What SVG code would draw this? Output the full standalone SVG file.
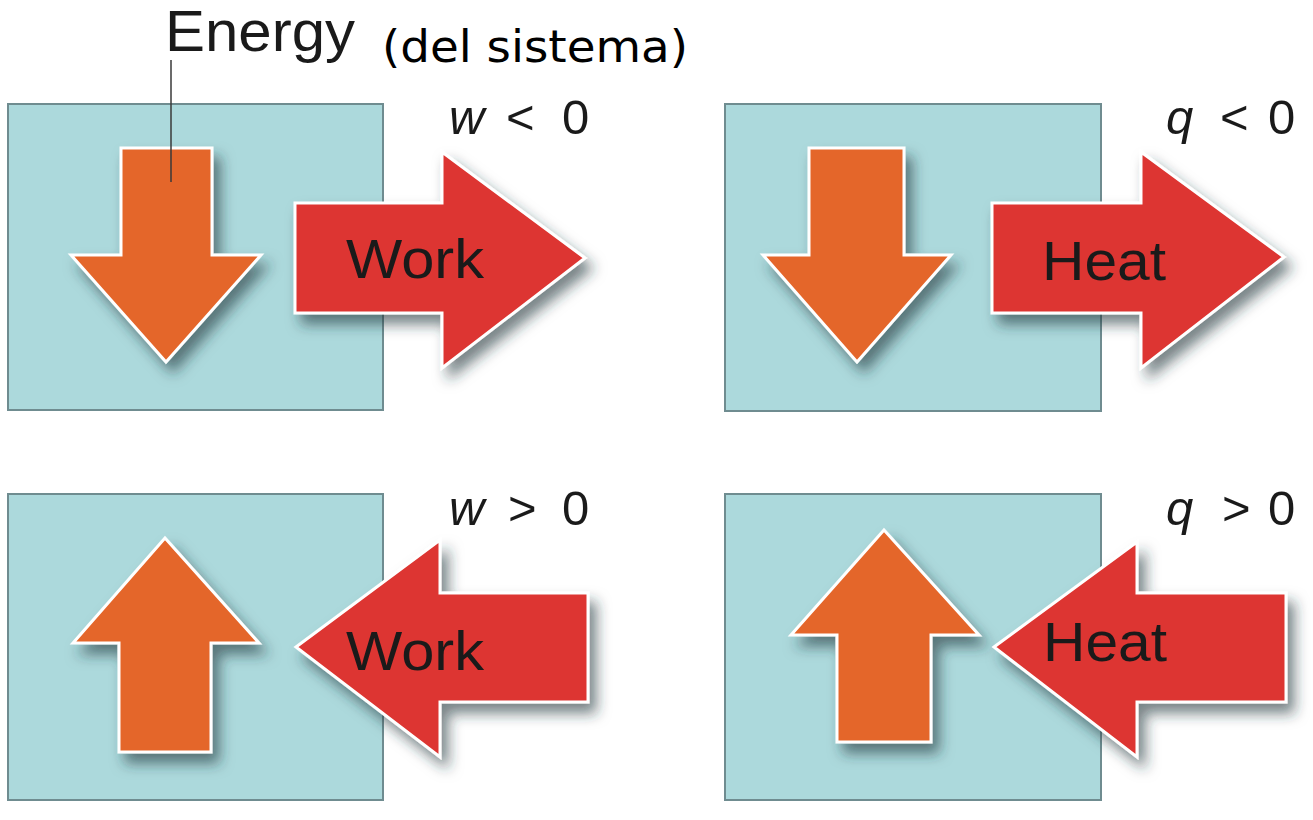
<svg xmlns="http://www.w3.org/2000/svg" width="1313" height="820" viewBox="0 0 1313 820">
<style>
.box{fill:#acd9dc;stroke:#6f8c90;stroke-width:2}
.orange{fill:#e4662a;stroke:#fff;stroke-width:3;stroke-linejoin:miter}
.red{fill:#dd3530;stroke:#fff;stroke-width:3;stroke-linejoin:miter}
.lbl{font-family:"Liberation Sans",Arial,sans-serif;fill:#1a1a1a}
.big{font-size:55px;text-anchor:middle}
.cond{font-size:49px}
.it{font-style:italic}
.lead{stroke:#3a3a3a;stroke-width:1.5;fill:none}
</style>
<defs>
<filter id="sh" x="-20%" y="-20%" width="150%" height="150%">
<feDropShadow dx="7" dy="10" stdDeviation="7" flood-color="#1e3538" flood-opacity="0.6"/>
</filter>
</defs>
<rect width="1313" height="820" fill="#fff"/>

<g id="panel-tl">
<rect class="box" x="8" y="104" width="375" height="306"/>
<path class="orange" filter="url(#sh)" d="M121,148 H212 V255 H261 L166,362 L71,255 H121 Z"/>
<path class="red" filter="url(#sh)" d="M295,203 H442 V152 L585,258 L442,368 V313 H295 Z"/>
<text class="lbl big" x="415" y="278" textLength="138" lengthAdjust="spacingAndGlyphs">Work</text>
<text class="lbl cond" y="134"><tspan class="it" x="449">w</tspan><tspan x="506">&lt;</tspan><tspan x="562">0</tspan></text>
</g>

<g id="panel-tr">
<rect class="box" x="725" y="104" width="376" height="307"/>
<path class="orange" filter="url(#sh)" d="M809,148 H904 V255 H951 L857,362 L763,255 H809 Z"/>
<path class="red" filter="url(#sh)" d="M992,203 H1141 V152 L1284,257 L1141,368 V313 H992 Z"/>
<text class="lbl big" x="1104" y="280" textLength="124" lengthAdjust="spacingAndGlyphs">Heat</text>
<text class="lbl cond" y="134"><tspan class="it" x="1166">q</tspan><tspan x="1220">&lt;</tspan><tspan x="1268">0</tspan></text>
</g>

<g id="panel-bl">
<rect class="box" x="8" y="494" width="375" height="306"/>
<path class="orange" filter="url(#sh)" d="M165,538 L259,643 H211 V752 H119 V643 H73 Z"/>
<path class="red" filter="url(#sh)" d="M296,647 L440,540 V593 H588 V702 H440 V757 Z"/>
<text class="lbl big" x="415" y="670" textLength="138" lengthAdjust="spacingAndGlyphs">Work</text>
<text class="lbl cond" y="525"><tspan class="it" x="449">w</tspan><tspan x="508">&gt;</tspan><tspan x="562">0</tspan></text>
</g>

<g id="panel-br">
<rect class="box" x="725" y="494" width="376" height="306"/>
<path class="orange" filter="url(#sh)" d="M884,530 L979,635 H931 V742 H837 V635 H791 Z"/>
<path class="red" filter="url(#sh)" d="M994,647 L1137,542 V593 H1286 V702 H1137 V757 Z"/>
<text class="lbl big" x="1105" y="661" textLength="124" lengthAdjust="spacingAndGlyphs">Heat</text>
<text class="lbl cond" y="525"><tspan class="it" x="1166">q</tspan><tspan x="1222">&gt;</tspan><tspan x="1268">0</tspan></text>
</g>

<g id="energy-label">
<text class="lbl" x="165" y="51" font-size="57" fill="#231f20" textLength="190" lengthAdjust="spacingAndGlyphs">Energy</text>
<text x="382" y="62" font-family="'DejaVu Sans',Verdana,sans-serif" font-size="44" fill="#000" textLength="306" lengthAdjust="spacingAndGlyphs">(del sistema)</text>
</g>

<g id="connectors">
<line class="lead" x1="171" y1="60" x2="171" y2="182"/>
</g>
</svg>
